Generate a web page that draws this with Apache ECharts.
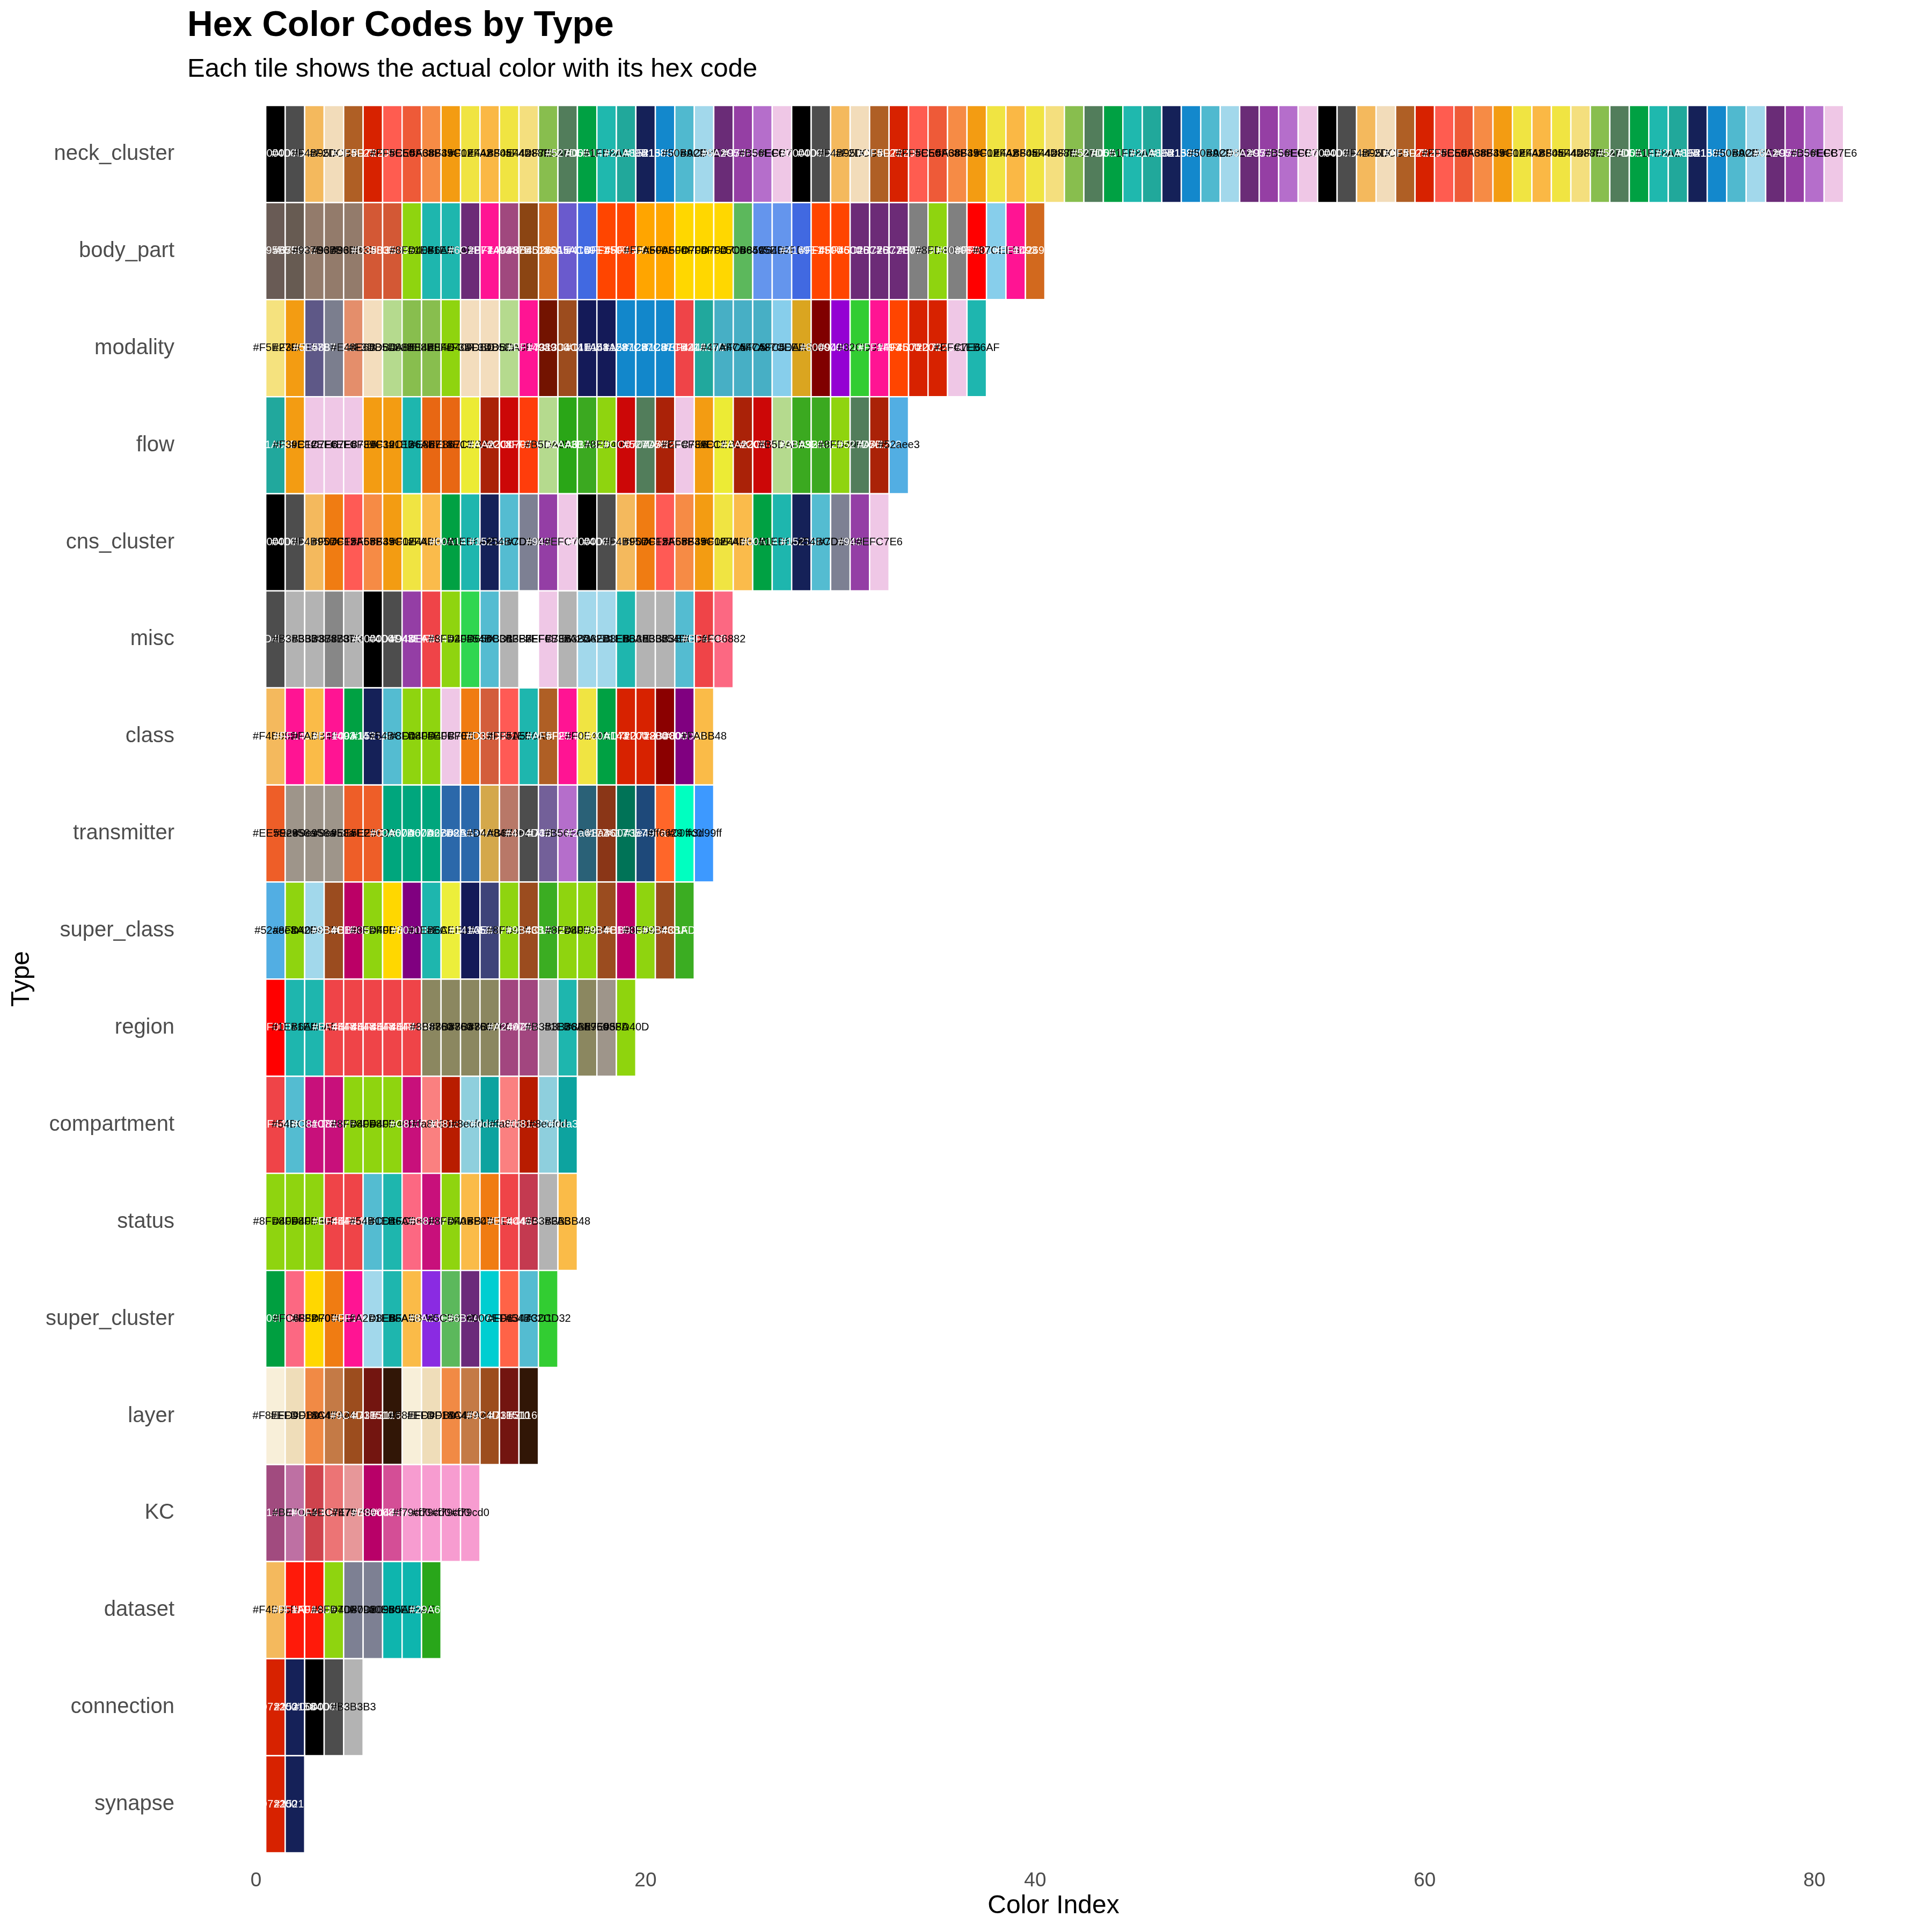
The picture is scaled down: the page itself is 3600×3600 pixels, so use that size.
<!DOCTYPE html>
<html><head><meta charset="utf-8">
<script src="https://cdn.jsdelivr.net/npm/echarts@6/dist/echarts.min.js"></script>
<style>html,body{margin:0;padding:0;background:#fff}#c{width:3600px;height:3600px}</style>
</head><body><div id="c"></div>
<script>
const types = ["neck_cluster","body_part","modality","flow","cns_cluster","misc","class","transmitter","super_class","region","compartment","status","super_cluster","layer","KC","dataset","connection","synapse"];
const xTicks = [0, 20, 40, 60, 80];

const neck_cluster = [
"#000000","#4D4D4D","#F4B95D","#F2DCBA","#AF5F25","#D72200","#FF5C50","#EE5A38","#F68B45","#F39C12","#F0E442","#FAB845","#F0E442","#F4DF7E","#88BE4E","#527D5B","#00A143","#1FB8AE","#21A89B","#152158","#1388CC","#50B9CF","#A2D8EB","#6A2C77","#953FA4","#B56ECB","#EFC7E6",
"#000000","#4D4D4D","#F4B95D","#F2DCBA","#AF5F25","#D72200","#FF5C50","#EE5A38","#F68B45","#F39C12","#F0E442","#FAB845","#F0E442","#F4DF7E","#88BE4E","#527D5B","#00A143","#1FB8AE","#21A89B","#152158","#1388CC","#50B9CF","#A2D8EB","#6A2C77","#953FA4","#B56ECB","#EFC7E6",
"#000000","#4D4D4D","#F4B95D","#F2DCBA","#AF5F25","#D72200","#FF5C50","#EE5A38","#F68B45","#F39C12","#F0E442","#FAB845","#F0E442","#F4DF7E","#88BE4E","#527D5B","#00A143","#1FB8AE","#21A89B","#152158","#1388CC","#50B9CF","#A2D8EB","#6A2C77","#953FA4","#B56ECB","#EFC7E6"];
const body_part = ["#695B55","#675B52","#937B6B","#937B6B","#937B6B","#D35835","#D35835","#8FD40F","#1EB6AE","#1EB6AE","#6C2B77","#FF1493","#A0487E","#8B4513","#D2691E","#6A5ACD","#4169E1","#FF4500","#FF4500","#FFA500","#FFA500","#FFD700","#FFD700","#FFD700","#5CB85C","#6495ED","#6495ED","#4169E1","#FF4500","#FF4500","#6C2B77","#6C2B77","#6C2B77","#808080","#8FD40F","#808080","#FF0000","#87CEEB","#FF1493","#D2691E"];
const modality = ["#F5E27E","#F39C12","#5E5887","#7B7E8E","#E48E6B","#F3DDBD","#B5DA8E","#88BE4E","#88BE4E","#8FD40F","#F3DDBD","#F3DDBD","#B5DA8E","#FF1493","#731300","#9C4C1E","#141A58","#141A58","#1287CB","#1287CB","#1287CB","#EF4448","#21A89D","#47AFC5","#47AFC5","#47AFC5","#87CEEB","#DAA520","#800000","#9400D3","#32CD32","#FF1493","#FF4500","#D72200","#D72200","#EFC7E6","#1EB6AF"];
const flow = ["#21A89D","#F39C12","#EFC7E6","#EFC7E6","#EFC7E6","#F39C12","#F39C12","#1EB6AE","#E86713","#E86713","#ECEB35","#AA2208","#CC0707","#FF3D0B","#B5DA8E","#2AA617","#3BA920","#8FD40F","#CC0707","#527D5B","#AA2208","#EFC7E6","#F39C12","#ECEB35","#AA2208","#CC0707","#B5DA8E","#3BA920","#3BA920","#8FD40F","#527D5B","#AA2208","#52aee3"];
const cns_cluster = ["#000000","#4D4D4D","#F4B95D","#F07C12","#FF5A55","#F68B45","#F39C12","#F0E442","#FABB4B","#00A143","#1EB6AE","#152158","#54BCD1","#7D8093","#943EA5","#EFC7E6",
"#000000","#4D4D4D","#F4B95D","#F07C12","#FF5A55","#F68B45","#F39C12","#F0E442","#FABB4B","#00A143","#1EB6AE","#152158","#54BCD1","#7D8093","#943EA5","#EFC7E6"];
const misc = ["#4D4D4D","#B3B3B3","#B3B3B3","#878787","#B3B3B3","#000000","#4D4D4D","#943EA5","#EF4448","#8FD40F","#2FD650","#54BCD1","#B3B3B3","#FFFFFF","#EFC7E6","#B3B3B3","#A2D8EB","#A2D8EB","#1EB6AE","#B3B3B3","#B3B3B3","#54BCD1","#EF4448","#FC6882"];
const class_ = ["#F4B95D","#FF1493","#FABB48","#FF1493","#00A143","#152158","#54BCD1","#8FD40F","#8FD40F","#EFC7E6","#F07C12","#D35D3C","#FF5A55","#1EB6AE","#AF5F25","#FF1493","#F0E442","#00A143","#D72200","#D72200","#8B0000","#800080","#FABB48"];
const transmitter = ["#EE5E28","#9e958a","#9e958a","#9e958a","#EE5E28","#EE5E28","#00A67D","#00A67D","#00A67D","#2B68AA","#2B68AA","#D4A84B","#B87868","#4D4D4D","#736099","#B56ECB","#2a6177","#8a3617","#007357","#1e497a","#ff6629","#00ffc0","#3d99ff"];
const super_class = ["#52aee3","#8FD40F","#A2D8EB","#9B4C1F","#BB0066","#8FD40F","#FFD700","#800080","#1EB6AE","#ECEE3B","#141A58","#3E4379","#8FD40F","#9B4C1F","#3BAD22","#8FD40F","#8FD40F","#9B4C1F","#BB0066","#8FD40F","#9B4C1F","#3BAD22"];
const region = ["#FF0000","#1EB6AE","#1EB6AE","#EF4448","#EF4448","#EF4448","#EF4448","#EF4448","#8B8760","#8B8760","#8B8760","#8B8760","#A2467F","#A2467F","#B3B3B3","#1EB6AE","#8B8760","#9E958A","#8FD40D"];
const compartment = ["#EF4448","#54BCD1","#C8107B","#C8107B","#8FD40F","#8FD40F","#8FD40F","#C8107B","#fa8080","#b81c00","#8ecfdd","#0da39f","#fa8080","#b81c00","#8ecfdd","#0da39f"];
const status = ["#8FD40F","#8FD40F","#8FD40F","#EF4448","#EF4448","#54BCD1","#1EB6AE","#FC6882","#C8107B","#8FD40F","#FABB48","#F07C12","#EF4448","#C43A50","#B3B3B3","#FABB48"];
const super_cluster = ["#009F40","#FC6882","#FFD700","#F07C12","#FF1493","#A2D8EB","#1EB6AE","#FABB48","#8A2BE2","#5CB85C","#6B2A7A","#00CED1","#FF6347","#54BCD1","#32CD32"];
const layer = ["#F8EFD9","#EFDDB9","#F18A45","#C47A46","#9C4D1E","#731510","#311606","#F8EFD9","#EFDDB9","#F18A45","#C47A46","#9C4D1E","#731510","#311606"];
const KC = ["#A14B7F","#BE70A3","#CF434D","#EC7475","#E79799","#B80068","#d44e96","#f79cd0","#f79cd0","#f79cd0","#f79cd0"];
const dataset = ["#F4B95D","#FF1A0A","#FF1A0A","#8FD40F","#7D8093","#7D8093","#0EB5AE","#0EB5AE","#29A61A"];
const connection = ["#D72200","#152158","#000000","#4D4D4D","#B3B3B3"];
const synapse = ["#D72200","#152158"];

const rows = [neck_cluster, body_part, modality, flow, cns_cluster, misc, class_, transmitter, super_class, region, compartment, status, super_cluster, layer, KC, dataset, connection, synapse];

const FONT = '"Liberation Sans", Arial, Helvetica, sans-serif';
const data = [];
const hexes = [];
rows.forEach((r, i) => r.forEach((hex, j) => { data.push([j + 1, i]); hexes.push(hex); }));

function textColor(hex) {
  const h = hex.replace('#', '');
  const r = parseInt(h.substr(0, 2), 16), g = parseInt(h.substr(2, 2), 16), b = parseInt(h.substr(4, 2), 16);
  return (0.299 * r + 0.587 * g + 0.114 * b) >= 128 ? '#000000' : '#FFFFFF';
}

const chart = echarts.init(document.getElementById('c'), null, { renderer: 'canvas' });
chart.setOption({
  animation: false,
  backgroundColor: '#ffffff',
  title: [
    { text: 'Hex Color Codes by Type', left: 349, top: 16, padding: 0,
      textStyle: { fontSize: 66, fontWeight: 'bold', color: '#000', fontFamily: FONT, lineHeight: 66 } },
    { text: 'Each tile shows the actual color with its hex code', left: 349, top: 105, padding: 0,
      textStyle: { fontSize: 49, fontWeight: 'normal', color: '#000', fontFamily: FONT, lineHeight: 49 } }
  ],
  grid: { left: 477, right: 74, top: 196.5, bottom: 147.5, containLabel: false },
  xAxis: {
    type: 'value', min: xTicks[0], max: 84, interval: 20,
    axisLine: { show: false }, axisTick: { show: false }, splitLine: { show: false },
    axisLabel: { showMaxLabel: false, fontSize: 37, color: '#4D4D4D', fontFamily: FONT, margin: 34 }
  },
  yAxis: {
    type: 'category', data: types, inverse: true,
    axisLine: { show: false }, axisTick: { show: false }, splitLine: { show: false },
    axisLabel: { fontSize: 40, color: '#4D4D4D', fontFamily: FONT, margin: 152 }
  },
  graphic: [
    { type: 'text', x: 41, y: 1824, rotation: Math.PI / 2,
      style: { text: 'Type', font: '48px ' + FONT, fill: '#000', align: 'center', verticalAlign: 'middle' } },
    { type: 'text', x: 1963, y: 3552,
      style: { text: 'Color Index', font: '48px ' + FONT, fill: '#000', align: 'center', verticalAlign: 'middle' } }
  ],
  series: [
    {
      type: 'custom', name: 'tiles', data: data, encode: { x: 0, y: 1 }, clip: false, z: 2,
      renderItem: function (params, api) {
        const c = api.coord([api.value(0), api.value(1)]);
        const s = api.size([1, 1]);
        return { type: 'rect',
          shape: { x: c[0] - s[0] / 2, y: c[1] - s[1] / 2, width: s[0], height: s[1] },
          style: { fill: hexes[params.dataIndex], stroke: '#FFFFFF', lineWidth: 2.5 } };
      }
    },
    {
      type: 'custom', name: 'labels', data: data, encode: { x: 0, y: 1 }, clip: false, z: 3,
      renderItem: function (params, api) {
        const c = api.coord([api.value(0), api.value(1)]);
        const hex = hexes[params.dataIndex];
        return { type: 'text', x: c[0], y: c[1],
          style: { text: hex, fill: textColor(hex), font: '20px ' + FONT, align: 'center', verticalAlign: 'middle' } };
      }
    }
  ]
});
</script></body></html>
